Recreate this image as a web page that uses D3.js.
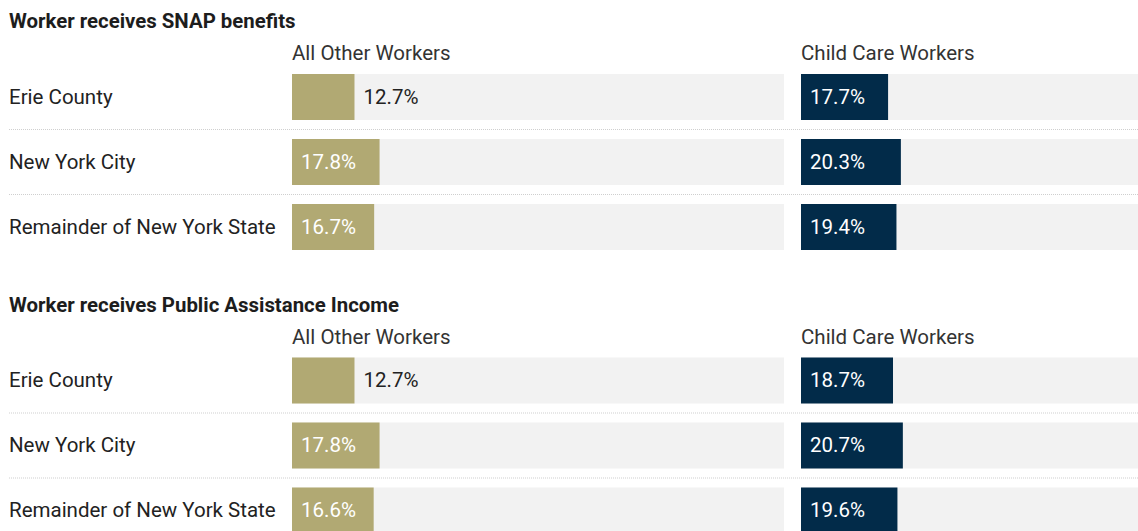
<!DOCTYPE html>
<html>
<head>
<meta charset="utf-8">
<script src="https://cdn.jsdelivr.net/npm/d3@7"></script>
<style>
  body { margin: 0; background: #fff; overflow: hidden; }
  svg { display: block; font-family: Roboto, sans-serif; }
</style>
</head>
<body>
<div id="chart"></div>
<script>
// DATA
const regions = ["Erie County", "New York City", "Remainder of New York State"];
const groups = ["All Other Workers", "Child Care Workers"];
const sectionTitles = ["Worker receives SNAP benefits", "Worker receives Public Assistance Income"];
const snapOther = [12.7, 17.8, 16.7];
const snapChild = [17.7, 20.3, 19.4];
const paOther = [12.7, 17.8, 16.6];
const paChild = [18.7, 20.7, 19.6];

const sections = [
    { title: sectionTitles[0], values: [snapOther, snapChild] },
    { title: sectionTitles[1], values: [paOther, paChild] }
];

// SIZES
const width = 1138, height = 531;
const sectionStep = 283.5;
const colors = ["#b1a973", "#022b49"];
const fs = 20.5;

const svg = d3.select("#chart").append("svg")
    .attr("width", width)
    .attr("height", height);

// SCALES
const xScale = d3.scaleLinear().domain([0, 100]).range([0, 492]);
const colX = d3.scaleOrdinal().domain(groups).range([292, 801]);
const yScale = d3.scaleBand()
    .domain(regions)
    .range([74, 250])
    .paddingInner(19 / 65)
    .paddingOuter(0);

sections.forEach((sec, si) => {
    const g = svg.append("g")
        .attr("transform", `translate(0,${si * sectionStep})`);

    // title
    g.append("text")
        .attr("x", 9)
        .attr("y", 28)
        .attr("font-size", 20.4)
        .attr("font-weight", 700)
        .attr("fill", "#1d1d1d")
        .text(sec.title);

    // column headers
    g.selectAll(".col-head")
        .data(groups)
        .enter()
        .append("text")
        .attr("class", "col-head")
        .attr("x", d => colX(d))
        .attr("y", 60)
        .attr("font-size", fs)
        .attr("fill", "#333")
        .text(d => d);

    // dotted separators
    g.selectAll(".sep")
        .data(regions.slice(0, -1))
        .enter()
        .append("line")
        .attr("class", "sep")
        .attr("x1", 9)
        .attr("x2", width)
        .attr("y1", d => yScale(d) + yScale.bandwidth() + 9.5)
        .attr("y2", d => yScale(d) + yScale.bandwidth() + 9.5)
        .attr("stroke", "#cfcfcf")
        .attr("stroke-width", 1)
        .attr("stroke-dasharray", "1,1");

    // row labels
    g.selectAll(".row-label")
        .data(regions)
        .enter()
        .append("text")
        .attr("class", "row-label")
        .attr("x", 9)
        .attr("y", d => yScale(d) + yScale.bandwidth() / 2)
        .attr("dy", "0.32em")
        .attr("font-size", fs)
        .attr("fill", "#222")
        .text(d => d);

    groups.forEach((grp, gi) => {
        const rows = regions.map((r, i) => ({ region: r, value: sec.values[gi][i] }));
        const x0 = colX(grp);

        // background
        g.selectAll(`.bg-${gi}`)
            .data(rows)
            .enter()
            .append("rect")
            .attr("x", x0)
            .attr("y", d => yScale(d.region))
            .attr("width", xScale(100))
            .attr("height", yScale.bandwidth())
            .attr("fill", "#f2f2f2");

        // bars
        g.selectAll(`.bar-${gi}`)
            .data(rows)
            .enter()
            .append("rect")
            .attr("x", x0)
            .attr("y", d => yScale(d.region))
            .attr("width", d => xScale(d.value))
            .attr("height", yScale.bandwidth())
            .attr("fill", colors[gi]);

        // value labels
        g.selectAll(`.val-${gi}`)
            .data(rows)
            .enter()
            .append("text")
            .attr("font-size", fs)
            .attr("y", d => yScale(d.region) + yScale.bandwidth() / 2)
            .attr("dy", "0.32em")
            .each(function (d) {
                const t = d3.select(this).text(d.value.toFixed(1) + "%");
                const w = this.getComputedTextLength();
                const bw = xScale(d.value);
                if (w + 18 <= bw) {
                    t.attr("x", x0 + 9).attr("fill", "#fff");
                } else {
                    t.attr("x", x0 + bw + 9).attr("fill", "#222");
                }
            });
    });
});
</script>
</body>
</html>
